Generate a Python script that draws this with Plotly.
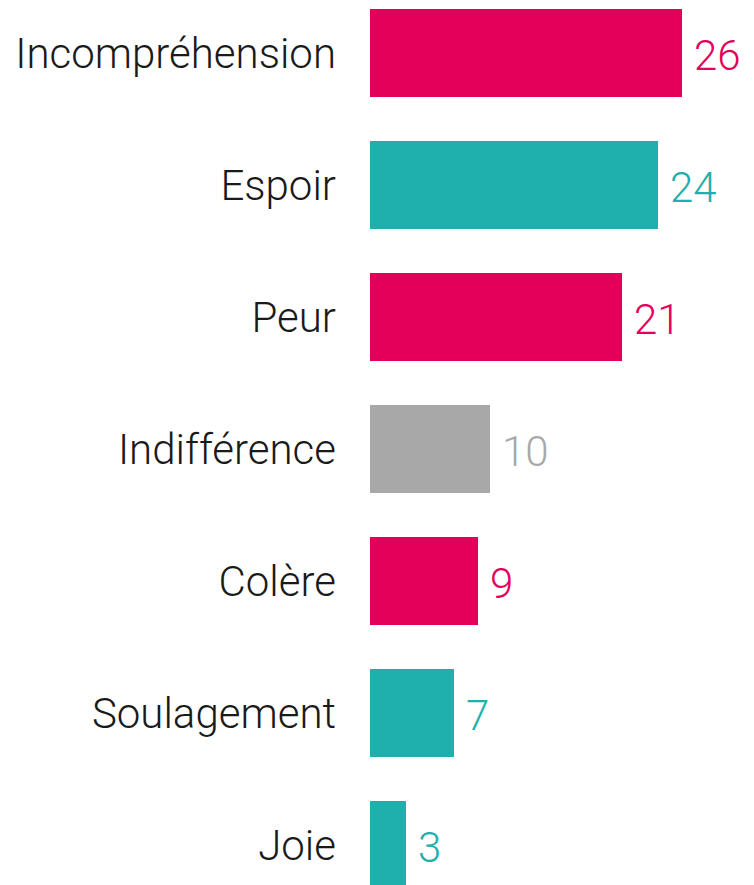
import plotly.graph_objects as go

# data
categories = ["Incompréhension", "Espoir", "Peur", "Indifférence", "Colère", "Soulagement", "Joie"]
values = [26, 24, 21, 10, 9, 7, 3]
groups = ["neg", "pos", "neg", "neutral", "neg", "pos", "pos"]

palette = {"neg": "#E4005A", "pos": "#1FB0AE", "neutral": "#A8A8A8"}
colors = [palette[g] for g in groups]

fig = go.Figure()

fig.add_trace(
    go.Bar(
        x=values,
        y=categories,
        orientation="h",
        marker=dict(color=colors, line=dict(width=0)),
        width=0.667,
        hoverinfo="x+y",
    )
)

# value labels next to each bar
for cat, val, col in zip(categories, values, colors):
    fig.add_annotation(
        x=val, y=cat,
        text=str(val),
        showarrow=False,
        xanchor="left",
        xshift=10,
        yshift=-2,
        font=dict(family="Roboto", size=42, color=col, weight=300),
    )

# page body has an 8px margin, so the figure is sized to fit the window
fig.update_layout(
    width=746,
    height=877,
    margin=dict(l=362, r=0, t=0, b=0),
    plot_bgcolor="white",
    paper_bgcolor="white",
    showlegend=False,
)

fig.update_xaxes(range=[0, 32], visible=False)
fig.update_yaxes(
    autorange=False,
    range=[6.303, -0.341],
    showgrid=False,
    showline=False,
    ticks="",
    ticklabelstandoff=33,
    tickfont=dict(family="Roboto", size=42, color="#1a1a1a", weight=300),
)

fig.write_html("out.html")
